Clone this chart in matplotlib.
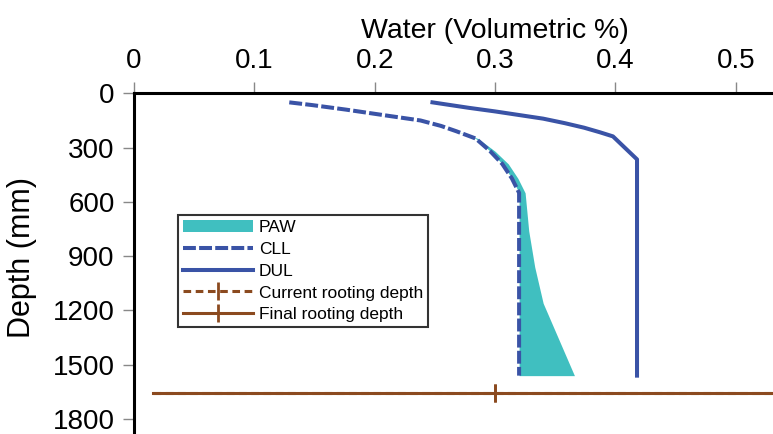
import matplotlib
matplotlib.use("Agg")
import matplotlib.pyplot as plt

plt.rcParams['font.family'] = ['Liberation Sans', 'DejaVu Sans']

# soil water profile (depth in mm, water as volumetric fraction)
depth = [50, 65, 90, 125, 150, 180, 210, 250, 320, 390, 470, 550, 760, 960, 1160, 1560]
cll = [0.129, 0.148, 0.176, 0.212, 0.238, 0.255, 0.268, 0.284, 0.296, 0.306, 0.314, 0.320,
       0.320, 0.320, 0.320, 0.320]
paw_top = [0.129, 0.148, 0.176, 0.212, 0.238, 0.255, 0.268, 0.286, 0.300, 0.311, 0.319, 0.325,
           0.328, 0.333, 0.340, 0.366]

dul_depth = [50, 65, 80, 100, 120, 140, 165, 190, 215, 238, 365, 1560]
dul = [0.248, 0.263, 0.278, 0.300, 0.320, 0.340, 0.358, 0.374, 0.387, 0.398, 0.418, 0.418]

# rooting depth lines
root_x = [0.016, 0.3, 0.6]
current_root_depth = [1658, 1658, 1658]
final_root_depth = [1658, 1658, 1658]

x_ticks = [0, 0.1, 0.2, 0.3, 0.4, 0.5]
x_labels = ['0', '0.1', '0.2', '0.3', '0.4', '0.5']
y_ticks = [0, 300, 600, 900, 1200, 1500, 1800]

blue = '#3a53a6'
teal = '#40bfc0'
brown = '#8b4a1f'

fig = plt.figure(figsize=(7.73, 4.34), dpi=100)
ax = fig.add_axes([0.1734, -0.049, 0.934, 0.834])

ax.fill_betweenx(depth, cll, paw_top, color=teal, linewidth=0, label='PAW')
ax.plot(cll, depth, color=blue, lw=2.9, dashes=(3.2, 0.8), label='CLL')
ax.plot(dul, dul_depth, color=blue, lw=2.9, label='DUL')
ax.plot(root_x, current_root_depth, color=brown, lw=2.2, dashes=(2.5, 1.5),
        marker='|', markersize=13, markeredgewidth=2, markevery=[1],
        label='Current rooting depth')
ax.plot(root_x, final_root_depth, color=brown, lw=2.2,
        marker='|', markersize=13, markeredgewidth=2, markevery=[1],
        label='Final rooting depth')

ax.set_xlim(0, 0.6)
ax.set_ylim(2000, 0)
ax.xaxis.tick_top()
ax.xaxis.set_label_position('top')
ax.set_xticks(x_ticks)
ax.set_xticklabels(x_labels)
ax.set_yticks(y_ticks)
ax.tick_params(axis='both', direction='out', length=8, width=1, color='#888888',
               labelsize=20, pad=6)
ax.set_xlabel('Water (Volumetric %)', fontsize=20.5, labelpad=7)
ax.set_ylabel('Depth (mm)', fontsize=22)
ax.yaxis.set_label_coords(-0.134, 0.545)

for side in ['top', 'left']:
    ax.spines[side].set_linewidth(2.2)
for side in ['bottom', 'right']:
    ax.spines[side].set_visible(False)

leg = ax.legend(loc='upper left', bbox_to_anchor=(0.061, 0.664), borderaxespad=0,
                fontsize=12.5, frameon=True, fancybox=False, edgecolor='black',
                handlelength=4.0, handletextpad=0.35, labelspacing=0.38,
                borderpad=0.3)
leg.get_frame().set_linewidth(1.5)

fig.savefig('out.png', dpi=100)
